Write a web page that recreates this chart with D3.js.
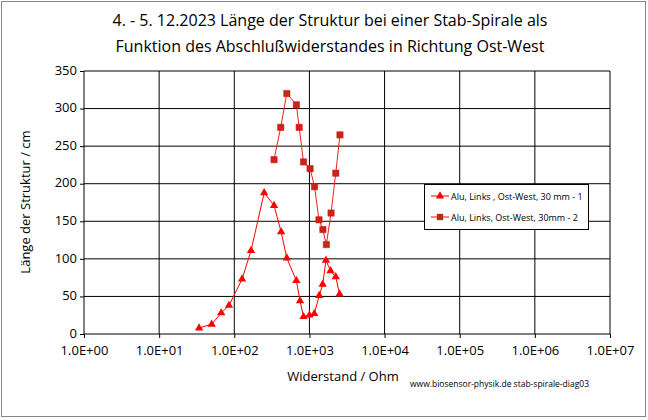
<!DOCTYPE html>
<html lang="en">
<head>
<meta charset="UTF-8">
<title>Stab-Spirale diag03</title>
<script src="https://d3js.org/d3.v7.min.js"></script>
<style>body{margin:0;background:#fff;} text{font-family:"Open Sans",sans-serif;}</style>
</head>
<body>
<script type="text/javascript">
var width = 648, height = 420;
var series1R = [34,50,67,85,127,167,250,338,420,500,670,750,835,1000,1160,1350,1500,1660,1910,2240,2520];
var series1L = [8,13,28,38,73,111,188,171,136,101,71,44,23,25,27,51,66,98,84,76,53];
var series2R = [338,415,500,670,730,835,1020,1170,1340,1510,1680,1940,2240,2550];
var series2L = [232,275,320,305,275,229,220,196,152,139,119,161,214,265];
var xTicks = [1,10,100,1000,10000,100000,1000000,10000000];
var xTickLabels = ["1.0E+00","1.0E+01","1.0E+02","1.0E+03","1.0E+04","1.0E+05","1.0E+06","1.0E+07"];
var yTicks = [0,50,100,150,200,250,300,350];
var legendNames = ["Alu, Links , Ost-West, 30 mm - 1","Alu, Links, Ost-West, 30mm - 2"];

var svg = d3.select("body").append("svg").attr("width", width).attr("height", height);
svg.append("rect").attr("x",1.5).attr("y",1.5).attr("width",644).attr("height",415)
   .attr("fill","#fff").attr("stroke","#888");

var x = d3.scaleLog().domain([1,1e7]).range([84,610]);
var y = d3.scaleLinear().domain([0,350]).range([334,71]);

// grid
svg.append("g").selectAll("line").data(xTicks).enter().append("line")
   .attr("x1",d=>x(d)).attr("x2",d=>x(d)).attr("y1",71).attr("y2",334).attr("stroke","#000");
svg.append("g").selectAll("line").data(yTicks).enter().append("line")
   .attr("x1",84).attr("x2",610).attr("y1",d=>y(d)).attr("y2",d=>y(d)).attr("stroke","#000");

svg.append("g").attr("transform","translate(0,334)")
   .call(d3.axisBottom(x).tickValues(xTicks).tickFormat((d,i)=>xTickLabels[i]).tickSize(4))
   .call(g=>{g.select(".domain").remove(); g.selectAll("text").attr("font-size",13).attr("font-family","Open Sans").attr("fill","#000").attr("dy","1.1em");});
svg.append("g").attr("transform","translate(84,0)")
   .call(d3.axisLeft(y).tickValues(yTicks).tickSize(4))
   .call(g=>{g.select(".domain").remove(); g.selectAll("text").attr("font-size",13).attr("font-family","Open Sans").attr("fill","#000").attr("dy","0.25em");});

var line = d3.line().x(d=>x(d[0])).y(d=>y(d[1]));
var d1 = series1R.map((r,i)=>[r,series1L[i]]);
var d2 = series2R.map((r,i)=>[r,series2L[i]]);
svg.append("path").datum(d1).attr("d",line).attr("fill","none").attr("stroke","#ff0000").attr("stroke-width",1);
svg.append("path").datum(d2).attr("d",line).attr("fill","none").attr("stroke","#e8231e").attr("stroke-width",1);
var tri = d3.symbol().type(d3.symbolTriangle).size(30);
var sq = d3.symbol().type(d3.symbolSquare).size(40);
svg.append("g").selectAll("path").data(d1).enter().append("path")
   .attr("d",tri).attr("transform",d=>"translate("+x(d[0])+","+y(d[1])+")").attr("fill","#ff0000");
svg.append("g").selectAll("path").data(d2).enter().append("path")
   .attr("d",sq).attr("transform",d=>"translate("+x(d[0])+","+y(d[1])+")").attr("fill","#c0281c").attr("stroke","#ff0000").attr("stroke-width",0.5);

// legend
svg.append("rect").attr("x",424.5).attr("y",184.5).attr("width",164).attr("height",45).attr("fill","#fff").attr("stroke","#000");
[0,1].forEach(function(i){
  var ly = 196 + i*21;
  svg.append("line").attr("x1",431).attr("x2",449).attr("y1",ly).attr("y2",ly).attr("stroke","#ff0000");
  svg.append("path").attr("d",i===0?tri:sq).attr("transform","translate(440,"+ly+")").attr("fill",i===0?"#ff0000":"#c0281c");
  svg.append("text").attr("x",451).attr("y",ly+3.5).attr("font-size",9).text(legendNames[i]);
});

// titles
svg.append("text").attr("x",330).attr("y",26).attr("text-anchor","middle").attr("font-size",16).text("4. - 5. 12.2023 Länge der Struktur bei einer Stab-Spirale als");
svg.append("text").attr("x",330).attr("y",52).attr("text-anchor","middle").attr("font-size",16).text("Funktion des Abschlußwiderstandes in Richtung Ost-West");
svg.append("text").attr("x",343).attr("y",381).attr("text-anchor","middle").attr("font-size",13).text("Widerstand / Ohm");
svg.append("text").attr("transform","translate(30,202) rotate(-90)").attr("text-anchor","middle").attr("font-size",13).text("Länge der Struktur / cm");
svg.append("text").attr("x",410).attr("y",387).attr("font-size",8.5).text("www.biosensor-physik.de  stab-spirale-diag03");
</script>
</body>
</html>
